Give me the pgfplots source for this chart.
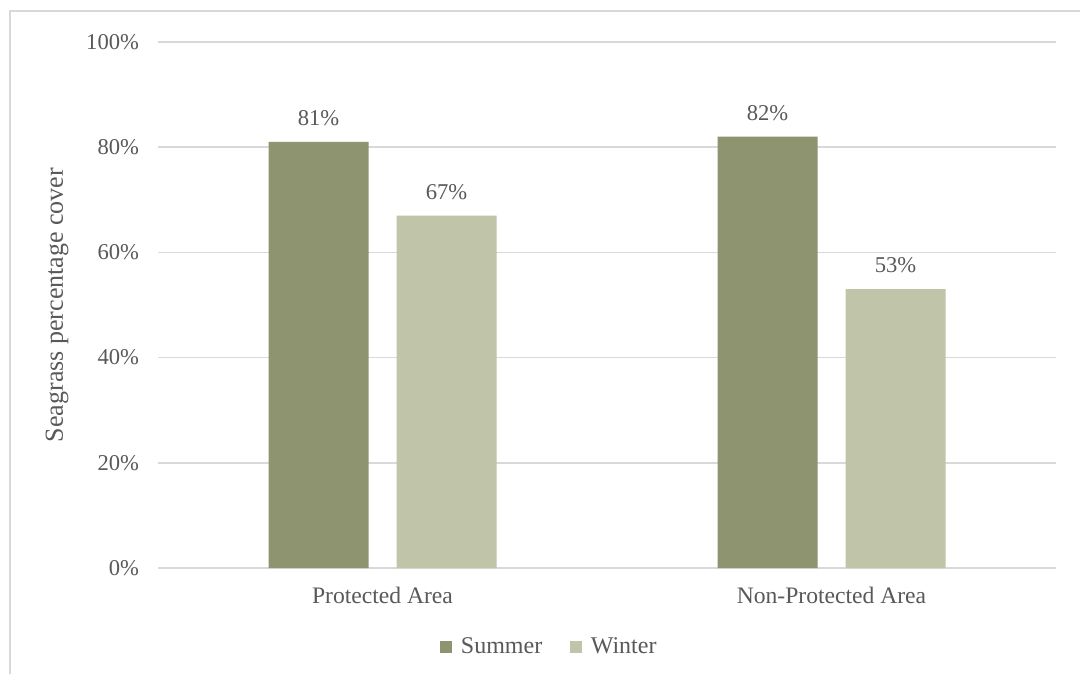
\documentclass[border=0pt]{standalone}
\usepackage{pgfplots}
\pgfplotsset{compat=1.18}
\usepackage{fontspec}
\setmainfont{Liberation Serif}
\definecolor{summer}{HTML}{8F9470}
\definecolor{winter}{HTML}{C0C4A8}
\definecolor{txt}{HTML}{595959}
\definecolor{gridc}{HTML}{D9D9D9}
\begin{document}
\begin{tikzpicture}
\useasboundingbox (0,0) rectangle (540bp,337bp);
\fill[white] (0,0) rectangle (540bp,337bp);
\draw[gridc, line width=0.75bp] (5bp,0) -- (5bp,331.5bp) -- (540bp,331.5bp);
\begin{axis}[
  at={(79bp,53bp)}, anchor=south west,
  scale only axis, width=449bp, height=263bp,
  xmin=-0.5, xmax=1.5, ymin=0, ymax=100,
  xtick={0,1}, xticklabels={Protected Area, Non-Protected Area},
  ytick={0,20,40,60,80,100},
  yticklabel={\pgfmathprintnumber{\tick}\%},
  /pgf/number format/assume math mode=true,
  tick style={draw=none},
  ymajorgrids, grid style={gridc, line width=0.75bp},
  axis line style={draw=none},
  ticklabel style={font=\fontsize{11.3bp}{13bp}\selectfont, text=txt},
  yticklabel style={xshift=-6bp},
  xticklabel style={font=\fontsize{11.8bp}{14bp}\selectfont, yshift=-2bp},
  ylabel={Seagrass percentage cover},
  ylabel style={at={(axis description cs:-0.1125,0.5)}, anchor=center, font=\fontsize{13bp}{15bp}\selectfont, text=txt},
  ybar, bar width=50bp,
  nodes near coords={\pgfmathprintnumber{\pgfplotspointmeta}\%},
  nodes near coords style={font=\fontsize{11.3bp}{13bp}\selectfont, text=txt, anchor=south, yshift=4.5bp},
  legend style={at={(0.437,-0.15)}, anchor=center, draw=none, legend columns=2, font=\fontsize{12bp}{14bp}\selectfont, text=txt, /tikz/every even column/.append style={column sep=12bp}, /tikz/every odd column/.append style={column sep=2.5bp}},
  legend image code/.code={\fill[#1] (0bp,-2.9bp) rectangle (5.8bp,2.9bp);},
  clip=false,
]
\draw[gridc, line width=0.75bp] (axis cs:-0.5,0) -- (axis cs:1.5,0);
\addplot[fill=summer, draw=none, bar shift=-32bp] coordinates {(0,81) (1,82)};
\addplot[fill=winter, draw=none, bar shift=32bp] coordinates {(0,67) (1,53)};
\legend{Summer, Winter}
\end{axis}
\end{tikzpicture}
\end{document}
